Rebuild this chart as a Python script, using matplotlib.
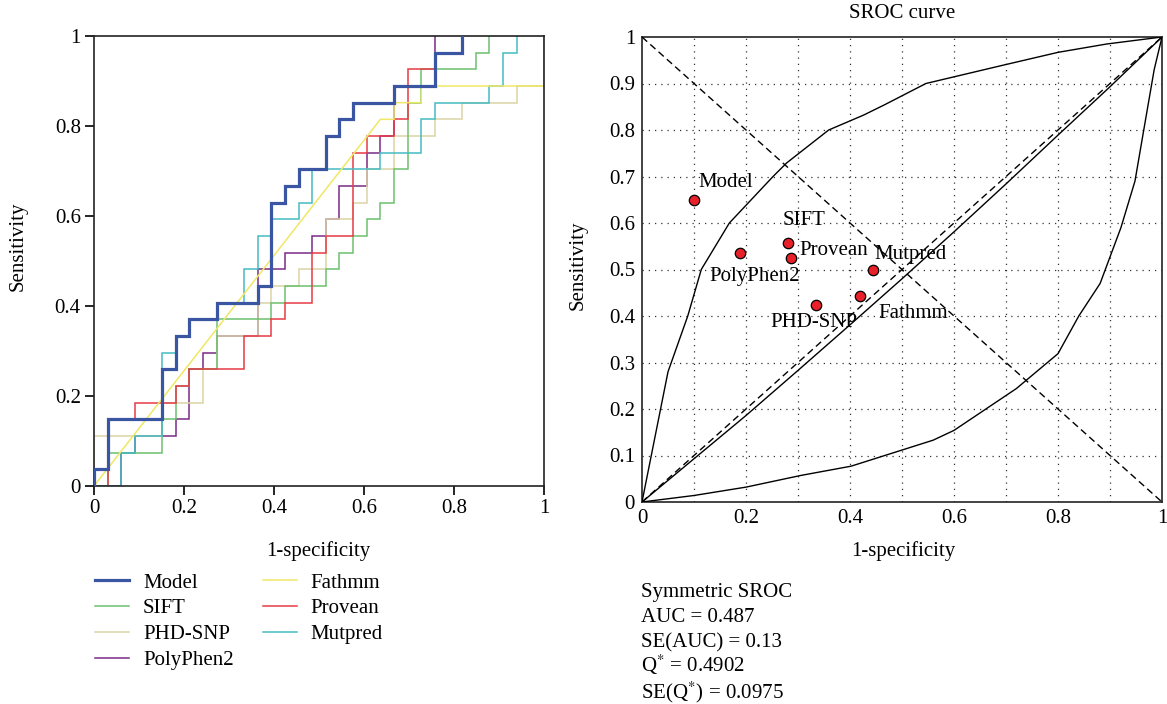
import matplotlib
matplotlib.use("Agg")
import matplotlib.pyplot as plt
import numpy as np

plt.rcParams['font.family'] = ['Liberation Serif', 'DejaVu Serif']
plt.rcParams['mathtext.fontset'] = 'stix'

# ---------------- Left panel: ROC step curves ----------------
# vertices in counts: false positives out of N_NEG, true positives out of N_POS
N_NEG = 33
N_POS = 27

model_fp = [0, 0, 1, 1, 5, 5, 6, 6, 7, 7, 9, 9, 12, 12, 13, 13, 14, 14, 15, 15, 17, 17, 18, 18, 19, 19, 22, 22, 25, 25, 27, 27]
model_tp = [0, 1, 1, 4, 4, 7, 7, 9, 9, 10, 10, 11, 11, 12, 12, 17, 17, 18, 18, 19, 19, 21, 21, 22, 22, 23, 23, 24, 24, 26, 26, 27]

sift_fp = [0, 1, 1, 5, 5, 6, 6, 7, 7, 9, 9, 13, 13, 14, 14, 17, 17, 18, 18, 19, 19, 20, 20, 21, 21, 22, 22, 23, 23, 24, 24, 28, 28, 29, 29]
sift_tp = [0, 0, 2, 2, 4, 4, 6, 6, 7, 7, 10, 10, 11, 11, 12, 12, 13, 13, 14, 14, 15, 15, 16, 16, 17, 17, 19, 19, 23, 23, 25, 25, 26, 26, 27]

phd_fp = [0, 0, 5, 5, 8, 8, 9, 9, 12, 12, 13, 13, 15, 15, 17, 17, 19, 19, 20, 20, 22, 22, 25, 25, 27, 27, 31, 31, 33, 33]
phd_tp = [0, 3, 3, 5, 5, 7, 7, 9, 9, 11, 11, 12, 12, 13, 13, 16, 16, 17, 17, 19, 19, 21, 21, 22, 22, 23, 23, 24, 24, 27]

poly_fp = [0, 2, 2, 3, 3, 6, 6, 7, 7, 8, 8, 9, 9, 12, 12, 14, 14, 16, 16, 17, 17, 18, 18, 20, 20, 21, 21, 22, 22, 25, 25]
poly_tp = [0, 0, 2, 2, 3, 3, 4, 4, 7, 7, 8, 8, 9, 9, 13, 13, 14, 14, 15, 15, 16, 16, 18, 18, 20, 20, 21, 21, 24, 24, 27]

fathmm_fp = [0, 21, 22, 22, 24, 24, 33, 33]
fathmm_tp = [0, 22, 22, 23, 23, 24, 24, 27]

provean_fp = [0, 1, 1, 3, 3, 6, 6, 7, 7, 11, 11, 13, 13, 14, 14, 16, 16, 17, 17, 19, 19, 20, 20, 22, 22, 23, 23, 25, 25, 27, 27]
provean_tp = [0, 0, 4, 4, 5, 5, 6, 6, 7, 7, 9, 9, 10, 10, 11, 11, 14, 14, 15, 15, 20, 20, 21, 21, 22, 22, 25, 25, 26, 26, 27]

mutpred_fp = [0, 2, 2, 3, 3, 5, 5, 6, 6, 7, 7, 9, 9, 11, 11, 12, 12, 13, 13, 15, 15, 16, 16, 21, 21, 24, 24, 25, 25, 29, 29, 30, 30, 31, 31]
mutpred_tp = [0, 0, 2, 2, 3, 3, 8, 8, 9, 9, 10, 10, 11, 11, 13, 13, 15, 15, 16, 16, 17, 17, 19, 19, 20, 20, 22, 22, 23, 23, 24, 24, 26, 26, 27]

roc_names = ['Model', 'SIFT', 'PHD-SNP', 'PolyPhen2', 'Fathmm', 'Provean', 'Mutpred']
roc_colors = ['#3a56a3', '#6cc06e', '#dcd3a6', '#7a2a86', '#f0e764', '#e63b45', '#45bcc3']

# ---------------- Right panel: SROC ----------------
upper_x = [0, 0.025, 0.05, 0.088, 0.114, 0.168, 0.252, 0.278, 0.359, 0.426, 0.466, 0.546, 0.693, 0.80, 0.894, 1.0]
upper_y = [0, 0.14, 0.28, 0.40, 0.50, 0.60, 0.70, 0.729, 0.80, 0.832, 0.854, 0.90, 0.939, 0.967, 0.985, 1.0]
lower_x = [0, 0.1, 0.2, 0.305, 0.402, 0.56, 0.6, 0.72, 0.80, 0.84, 0.881, 0.921, 0.948, 0.968, 0.985, 1.0]
lower_y = [0, 0.014, 0.032, 0.057, 0.077, 0.133, 0.154, 0.244, 0.319, 0.40, 0.47, 0.59, 0.69, 0.82, 0.93, 1.0]
sroc_x = [0, 0.1, 0.2, 0.3, 0.4, 0.5, 0.6, 0.7, 0.8, 0.9, 1.0]
sroc_y = [0, 0.093, 0.186, 0.283, 0.381, 0.480, 0.581, 0.684, 0.789, 0.893, 1.0]

study_names = ['Model', 'PolyPhen2', 'SIFT', 'Provean', 'Mutpred', 'Fathmm', 'PHD-SNP']
study_fpr = [0.10, 0.188, 0.28, 0.286, 0.444, 0.42, 0.335]
study_sens = [0.65, 0.535, 0.558, 0.525, 0.50, 0.444, 0.424]
label_x = [0.108, 0.13, 0.27, 0.302, 0.446, 0.454, 0.246]
label_y = [0.687, 0.485, 0.606, 0.541, 0.533, 0.405, 0.387]

stats_lines = ['Symmetric SROC', 'AUC = 0.487', 'SE(AUC) = 0.13',
               r'Q$^{*}$ = 0.4902', r'SE(Q$^{*}$) = 0.0975']

FS = 15
W, H = 1167, 704
fig = plt.figure(figsize=(W / 100, H / 100), dpi=100)

# ---- left axes
ax1 = fig.add_axes([94 / W, (H - 486) / H, 450 / W, 450 / H])
series = [(model_fp, model_tp), (sift_fp, sift_tp), (phd_fp, phd_tp), (poly_fp, poly_tp),
          (fathmm_fp, fathmm_tp), (provean_fp, provean_tp), (mutpred_fp, mutpred_tp)]
draw_order = [3, 2, 1, 5, 6, 4, 0]
handles = {}
for i in draw_order:
    fp, tp = series[i]
    lw = 2.3 if i == 0 else 1.1
    z = 5 if i == 0 else 2
    ln, = ax1.plot(np.array(fp) / N_NEG, np.array(tp) / N_POS, color=roc_colors[i], lw=lw,
                   zorder=z, solid_joinstyle='miter', label=roc_names[i])
    handles[i] = ln
ax1.set_xlim(0, 1)
ax1.set_ylim(0, 1)
ticks = [0, 0.2, 0.4, 0.6, 0.8, 1]
ax1.set_xticks(ticks)
ax1.set_yticks(ticks)
ax1.set_xticklabels(['0', '0.2', '0.4', '0.6', '0.8', '1'], fontsize=FS)
ax1.set_yticklabels(['0', '0.2', '0.4', '0.6', '0.8', '1'], fontsize=FS)
ax1.tick_params(direction='out', length=6.5, width=1.2, pad=3)
for s in ax1.spines.values():
    s.set_linewidth(1.2)
    s.set_color('#222222')
ax1.set_xlabel('1-specificity', fontsize=FS)
ax1.xaxis.set_label_coords(0.498, -0.123)
ax1.set_ylabel('Sensitivity', fontsize=FS)
ax1.yaxis.set_label_coords(-0.148, 0.533)

leg = fig.legend([handles[i] for i in range(7)], roc_names, loc='upper left',
                 bbox_to_anchor=(95 / W, 1 - 573 / H), ncol=2, frameon=False,
                 fontsize=FS, handlelength=1.65, handletextpad=0.65, columnspacing=1.4,
                 labelspacing=0.3, borderpad=0, borderaxespad=0)

# ---- right axes
ax2 = fig.add_axes([642 / W, (H - 502) / H, 520 / W, 465 / H])
grid = [0.1, 0.2, 0.3, 0.4, 0.5, 0.6, 0.7, 0.8, 0.9]
for g in grid:
    ax2.axvline(g, color='#333333', lw=0.9, ls=(0, (1, 4)), zorder=1)
    ax2.axhline(g, color='#333333', lw=0.9, ls=(0, (1, 4)), zorder=1)
ax2.plot(upper_x, upper_y, color='black', lw=1.0, zorder=3)
ax2.plot(lower_x, lower_y, color='black', lw=1.0, zorder=3)
ax2.plot(sroc_x, sroc_y, color='black', lw=1.0, zorder=3)
ax2.plot([0, 1], [0, 1], color='black', lw=1.0, ls=(0, (5, 3)), zorder=3)
ax2.plot([0, 1], [1, 0], color='black', lw=1.0, ls=(0, (5, 3)), zorder=3)
ax2.plot(study_fpr, study_sens, ls='none', marker='o', ms=7.5, mfc='#e8202a', mec='black',
         mew=0.9, zorder=4)
for name, lx, ly in zip(study_names, label_x, label_y):
    ax2.text(lx, ly, name, fontsize=FS, ha='left', va='center', zorder=5)
ax2.set_xlim(0, 1)
ax2.set_ylim(0, 1)
ax2.set_xticks([0, 0.2, 0.4, 0.6, 0.8, 1])
ax2.set_xticklabels(['0', '0.2', '0.4', '0.6', '0.8', '1'], fontsize=FS)
yt = [0, 0.1, 0.2, 0.3, 0.4, 0.5, 0.6, 0.7, 0.8, 0.9, 1]
ax2.set_yticks(yt)
ax2.set_yticklabels(['0', '0.1', '0.2', '0.3', '0.4', '0.5', '0.6', '0.7', '0.8', '0.9', '1'], fontsize=FS)
ax2.tick_params(length=0, pad=5)
for s in ax2.spines.values():
    s.set_linewidth(1.2)
    s.set_color('#222222')
ax2.set_xlabel('1-specificity', fontsize=FS)
ax2.xaxis.set_label_coords(0.502, -0.085)
ax2.set_ylabel('Sensitivity', fontsize=FS)
ax2.yaxis.set_label_coords(-0.105, 0.51)
fig.text(902 / W, 1 - 13 / H, 'SROC curve', fontsize=FS, ha='center', va='center')

baselines = [597, 622, 647, 672, 698]
for txt, b in zip(stats_lines, baselines):
    fig.text(641 / W, 1 - b / H, txt, fontsize=FS, ha='left', va='baseline')

fig.savefig('out.png', dpi=100)
